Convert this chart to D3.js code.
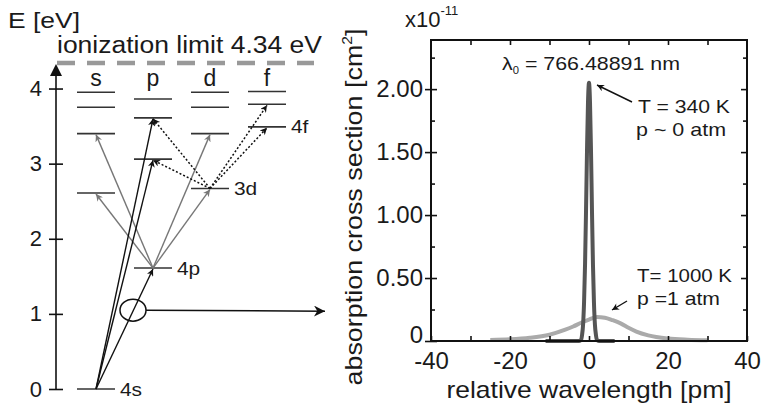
<!DOCTYPE html>
<html><head><meta charset="utf-8">
<script src="https://cdn.jsdelivr.net/npm/d3@7/dist/d3.min.js"></script>
<style>
body{margin:0;background:#fff}
text{font-family:"Liberation Sans",Arial,Helvetica,sans-serif;fill:#1a1a1a}
</style>
</head><body>
<svg id="c" width="764" height="408"></svg>
<script>
// ---------- Energy-level diagram data (eV) ----------
const orbitals = ["s", "p", "d", "f"];
const sLevels = [0, 2.61, 3.40, 3.75, 3.95];
const pLevels = [1.61, 3.06, 3.61, 3.86];
const dLevels = [2.67, 3.40, 3.75, 3.95];
const fLevels = [3.49, 3.79, 3.96];
const levelNames = ["4s", "4p", "3d", "4f"];
const levelNameCols = ["s", "p", "d", "f"];
const levelNameE = [0, 1.61, 2.67, 3.49];
const energyTicks = [0, 1, 2, 3, 4];
const ionizationLimit = 4.34;
// transitions: [fromCol, fromE, toCol, toE]
const blackTransitions = [["s", 0, "p", 1.61], ["s", 0, "p", 3.06], ["s", 0, "p", 3.61]];
const grayTransitions = [["p", 1.61, "s", 2.61], ["p", 1.61, "s", 3.40], ["p", 1.61, "d", 2.67], ["p", 1.61, "d", 3.40]];
const dottedTransitions = [["d", 2.67, "p", 3.06], ["d", 2.67, "p", 3.61], ["d", 2.67, "f", 3.49], ["d", 2.67, "f", 3.79]];

// ---------- Absorption spectrum data ----------
const narrowX = [-11, -4, -2.5, -2, -1.75, -1.5, -1.25, -1, -0.75, -0.5, -0.25, 0, 0.25, 0.5, 0.75, 1, 1.25, 1.5, 1.75, 2, 2.5, 4, 6.5];
const narrowY = [0, 0, 0, 0.01, 0.05, 0.13, 0.31, 0.61, 1.04, 1.52, 1.90, 2.05, 1.90, 1.52, 1.04, 0.61, 0.31, 0.13, 0.05, 0.01, 0, 0, 0];
const broadX = [-25, -20, -15, -10, -6, -4, -2, 0, 2, 4, 6, 8, 10, 12, 15, 20, 25, 30];
const broadY = [0.008, 0.013, 0.025, 0.05, 0.09, 0.115, 0.145, 0.17, 0.19, 0.185, 0.165, 0.14, 0.105, 0.075, 0.045, 0.02, 0.01, 0.005];
const xTicks = [-40, -20, 0, 20, 40];
const xMinorTicks = [-30, -10, 10, 30];
const xTopTicks = [-30, -20, -10, 0, 10, 20, 30];
const yTicks = [0, 0.5, 1, 1.5, 2];
const yMinorTicks = [0.25, 0.75, 1.25, 1.75, 2.25];

const svg = d3.select("#c");
function stretch(sel, len) {
  sel.attr("textLength", len).attr("lengthAdjust", "spacingAndGlyphs");
}

// markers
const defs = svg.append("defs");
function marker(id, color, w, h) {
  defs.append("marker").attr("id", id).attr("viewBox", "0 0 10 10")
    .attr("refX", 10).attr("refY", 5).attr("markerUnits", "userSpaceOnUse")
    .attr("markerWidth", w).attr("markerHeight", h).attr("orient", "auto")
    .append("path").attr("d", "M0,0 L10,5 L0,10 L3,5 Z").attr("fill", color);
}
marker("mBlack", "#111", 9, 7);
marker("mGray", "#777", 9, 7);
marker("mBig", "#111", 15, 11);

// ---------- Left: energy diagram ----------
const yE = d3.scaleLinear().domain([0, ionizationLimit]).range([389, 63]);
const xC = d3.scalePoint().domain(orbitals).range([96, 267]);
const halfW = 19;
const axisX = 56;

// vertical energy axis
svg.append("line").attr("x1", axisX).attr("x2", axisX).attr("y1", yE(0)).attr("y2", yE(ionizationLimit) + 10)
  .attr("stroke", "#111").attr("stroke-width", 1.6);
svg.append("path").attr("d", `M${axisX},${yE(ionizationLimit) + 1} L${axisX - 6},${yE(ionizationLimit) + 13} L${axisX + 6},${yE(ionizationLimit) + 13} Z`)
  .attr("fill", "#111");
const eAxis = d3.axisLeft(yE).tickValues(energyTicks).tickSize(0).tickPadding(14).tickFormat(d3.format("d"));
const eg = svg.append("g").attr("transform", `translate(${axisX},0)`).call(eAxis);
eg.select(".domain").remove();
eg.selectAll("text").attr("font-size", 22).style("font-family", "Liberation Sans, Arial, sans-serif").attr("fill", "#1a1a1a");
eg.selectAll(".tick").append("line").attr("x1", -7).attr("x2", 7).attr("stroke", "#111").attr("stroke-width", 1.6);

svg.append("text").attr("x", 8).attr("y", 28).attr("font-size", 22).text("E [eV]").call(stretch, 72);

// ionization limit
svg.append("line").attr("x1", 57).attr("x2", 314).attr("y1", yE(ionizationLimit)).attr("y2", yE(ionizationLimit))
  .attr("stroke", "#999").attr("stroke-width", 4.5).attr("stroke-dasharray", "18,12");
svg.append("text").attr("x", 57).attr("y", 53).attr("font-size", 23).text("ionization limit 4.34 eV").call(stretch, 265);

// column headers
svg.selectAll("text.col").data(orbitals).join("text").attr("class", "col")
  .attr("x", d => xC(d)).attr("y", 86).attr("text-anchor", "middle").attr("font-size", 23).text(d => d);

// levels
const levels = [];
[sLevels, pLevels, dLevels, fLevels].forEach((arr, i) => arr.forEach(E => levels.push({col: orbitals[i], E})));
svg.selectAll("line.lvl").data(levels).join("line").attr("class", "lvl")
  .attr("x1", d => xC(d.col) - halfW).attr("x2", d => xC(d.col) + halfW)
  .attr("y1", d => yE(d.E)).attr("y2", d => yE(d.E))
  .attr("stroke", "#333").attr("stroke-width", 1.6);

// level names
svg.selectAll("text.lname").data(levelNames).join("text").attr("class", "lname")
  .attr("x", (d, i) => xC(levelNameCols[i]) + halfW + 5).attr("y", (d, i) => yE(levelNameE[i]))
  .attr("dy", "0.35em").attr("font-size", 19).text(d => d)
  .each(function () { d3.select(this).call(stretch, this.getComputedTextLength() * 1.1); });

// transitions
function drawTrans(data, color, marker, dash, width) {
  svg.append("g").selectAll("line").data(data).join("line")
    .attr("x1", d => xC(d[0])).attr("y1", d => yE(d[1]))
    .attr("x2", d => xC(d[2])).attr("y2", d => yE(d[3]) + 1)
    .attr("stroke", color).attr("stroke-width", width)
    .attr("stroke-dasharray", dash).attr("marker-end", `url(#${marker})`);
}
drawTrans(grayTransitions, "#777", "mGray", null, 1.4);
drawTrans(blackTransitions, "#111", "mBlack", null, 1.4);
drawTrans(dottedTransitions, "#111", "mBlack", "2,2", 1.5);

// ellipse and connector arrow
const ex = (xC("s") + xC("p")) / 2 + 8.5, ey = yE(1.05);
svg.append("ellipse").attr("cx", ex).attr("cy", ey).attr("rx", 13).attr("ry", 11)
  .attr("fill", "none").attr("stroke", "#111").attr("stroke-width", 1.5);
svg.append("line").attr("x1", ex + 13).attr("x2", 325).attr("y1", ey).attr("y2", ey + 1)
  .attr("stroke", "#111").attr("stroke-width", 1.5).attr("marker-end", "url(#mBig)");

// ---------- Right: absorption spectrum ----------
const L = 431, R = 747, T = 40, B = 341;
const x = d3.scaleLinear().domain([-40, 40]).range([L, R]);
const y = d3.scaleLinear().domain([0, 2.39]).range([B, T]);

const line = d3.line().x(d => x(d[0])).y(d => y(d[1])).curve(d3.curveMonotoneX);
svg.append("path").datum(broadX.map((v, i) => [v, broadY[i]])).attr("d", line)
  .attr("fill", "none").attr("stroke", "#aaa").attr("stroke-width", 4);
svg.append("path").datum(narrowX.map((v, i) => [v, narrowY[i]])).attr("d", line)
  .attr("fill", "none").attr("stroke", "#555").attr("stroke-width", 4).attr("stroke-linejoin", "round");

function noLabels(g) { g.selectAll("text").remove(); g.select(".domain").remove(); g.selectAll("line").attr("stroke", "#111").attr("stroke-width", 1.6); }

// bottom
const gb = svg.append("g").attr("transform", `translate(0,${B})`)
  .call(d3.axisBottom(x).tickValues(xTicks).tickSize(0).tickPadding(11).tickFormat(d => String(d)));
gb.select(".domain").remove();
gb.selectAll("text").attr("font-size", 24).style("font-family", "Liberation Sans, Arial, sans-serif").attr("fill", "#1a1a1a");
svg.append("g").attr("transform", `translate(0,${B})`).call(d3.axisBottom(x).tickValues(xTicks.concat(xMinorTicks)).tickSize(-5)).call(noLabels);
// top
svg.append("g").attr("transform", `translate(0,${T})`).call(d3.axisTop(x).tickValues(xTopTicks).tickSize(-5)).call(noLabels);
// left
const gl = svg.append("g").attr("transform", `translate(${L},0)`)
  .call(d3.axisLeft(y).tickValues(yTicks).tickSize(6).tickPadding(2).tickFormat(d => d === 0 ? "0" : d3.format(".2f")(d)));
gl.select(".domain").remove();
gl.selectAll("line").attr("stroke", "#111").attr("stroke-width", 1.6);
gl.selectAll("text").attr("font-size", 24).style("font-family", "Liberation Sans, Arial, sans-serif").attr("fill", "#1a1a1a");
gl.selectAll("text").filter(d => d === 0).attr("dy", "0.05em");
svg.append("g").attr("transform", `translate(${L},0)`).call(d3.axisLeft(y).tickValues(yTicks).tickSize(-6)).call(noLabels);
svg.append("g").attr("transform", `translate(${L},0)`).call(d3.axisLeft(y).tickValues(yMinorTicks).tickSize(-4)).call(noLabels);
// right
svg.append("g").attr("transform", `translate(${R},0)`).call(d3.axisRight(y).tickValues(yTicks.slice(1)).tickSize(-6)).call(noLabels);
svg.append("g").attr("transform", `translate(${R},0)`).call(d3.axisRight(y).tickValues(yMinorTicks).tickSize(-4)).call(noLabels);
// frame
svg.append("rect").attr("x", L).attr("y", T).attr("width", R - L).attr("height", B - T)
  .attr("fill", "none").attr("stroke", "#111").attr("stroke-width", 2);

// multiplier
const mult = svg.append("text").attr("x", 405).attr("y", 27).attr("font-size", 22);
mult.append("tspan").text("x10");
mult.append("tspan").attr("font-size", 13).attr("dy", -12).text("-11");

// axis titles
svg.append("text").attr("x", (L + R) / 2).attr("y", 398).attr("text-anchor", "middle").attr("font-size", 24)
  .text("relative wavelength [pm]").call(stretch, 285);
const yt = svg.append("text").attr("transform", "translate(362,207) rotate(-90)").attr("text-anchor", "middle").attr("font-size", 24);
yt.append("tspan").text("absorption cross section [cm");
yt.append("tspan").attr("font-size", 14).attr("dy", -10).text("2");
yt.append("tspan").attr("dy", 10).text("]");
yt.call(stretch, 357);

// annotations
const lam = svg.append("text").attr("x", 502).attr("y", 70).attr("font-size", 19);
lam.append("tspan").text("λ");
lam.append("tspan").attr("font-size", 10).attr("dy", 4).text("0");
lam.append("tspan").attr("dy", -4).text(" = 766.48891 nm");
lam.call(stretch, 178);

svg.append("text").attr("x", 638).attr("y", 113).attr("font-size", 19).text("T = 340 K").call(stretch, 92);
svg.append("text").attr("x", 636).attr("y", 136).attr("font-size", 19).text("p ~ 0 atm").call(stretch, 90);
svg.append("line").attr("x1", 632).attr("y1", 102).attr("x2", 597).attr("y2", 85)
  .attr("stroke", "#111").attr("stroke-width", 1.4).attr("marker-end", "url(#mBlack)");

svg.append("text").attr("x", 637).attr("y", 282).attr("font-size", 19).text("T= 1000 K").call(stretch, 95);
svg.append("text").attr("x", 637).attr("y", 305).attr("font-size", 19).text("p =1 atm").call(stretch, 83);
svg.append("line").attr("x1", 627).attr("y1", 301).attr("x2", 612).attr("y2", 310)
  .attr("stroke", "#111").attr("stroke-width", 1.4).attr("marker-end", "url(#mBlack)");
</script>
</body></html>
